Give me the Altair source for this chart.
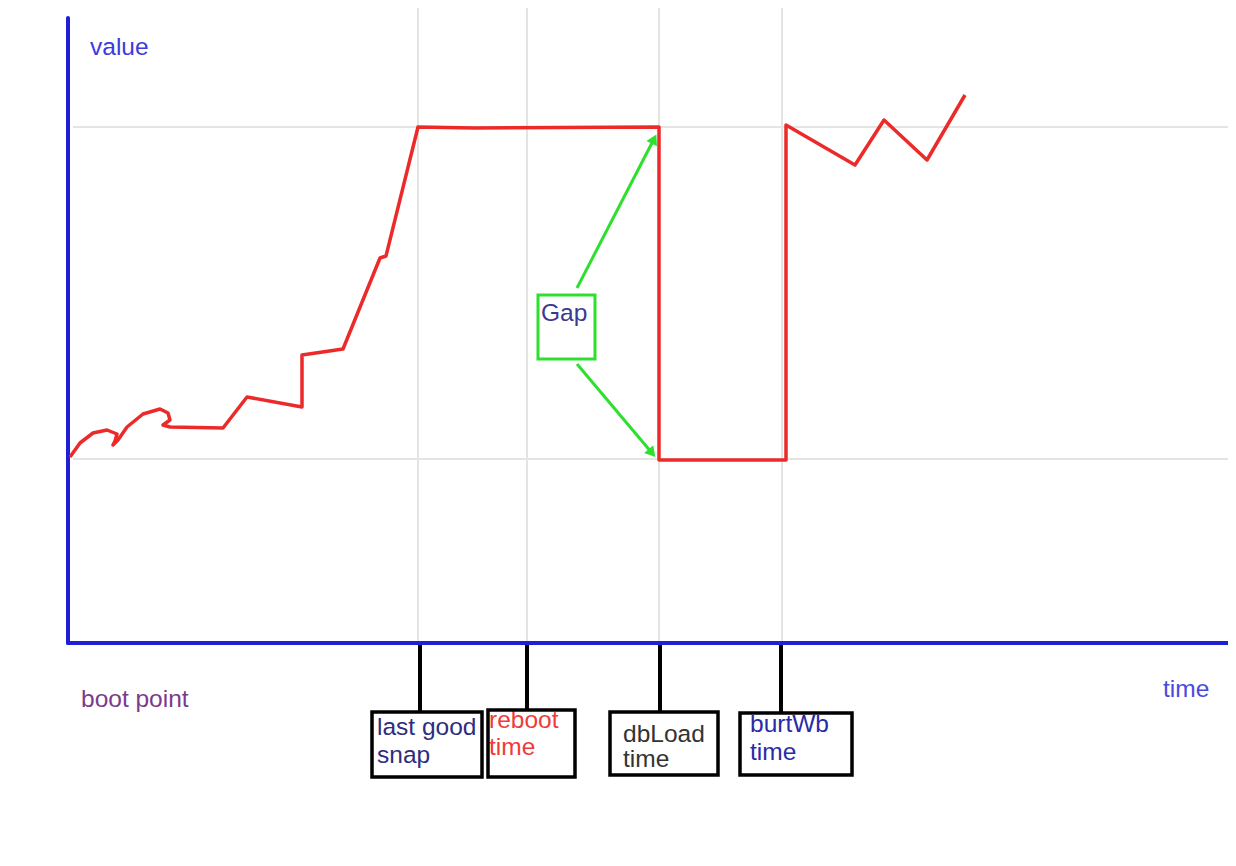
import altair as alt
import pandas as pd

# ---------------- data (time units, value units) ----------------
red_t = [0.2, 1.2, 2.5, 3.9, 4.9, 4.7, 4.5, 5.0, 5.9, 7.5, 9.2, 10.0, 10.2, 9.5, 10.2,
         15.5, 17.9, 23.4, 23.4, 27.5, 31.2, 31.8, 35.0, 40.7, 59.1, 59.1, 71.8, 71.8,
         78.7, 81.6, 85.9, 89.7]
red_v = [18.6, 20.0, 21.0, 21.3, 20.9, 20.2, 19.8, 20.3, 21.6, 22.9, 23.4, 23.0, 22.3, 21.8, 21.6,
         21.5, 24.6, 23.6, 28.8, 29.4, 38.5, 38.7, 51.6, 51.5, 51.6, 18.3, 18.3, 51.8,
         47.8, 52.3, 48.3, 54.8]

grid_v = [18.4, 51.6]
event_t = [35.0, 45.9, 59.1, 71.4]
tick_t = [35.2, 45.9, 59.2, 71.3]

box_t1 = [30.4, 42.0, 54.2, 67.2]
box_t2 = [41.4, 50.7, 65.0, 78.4]
box_v1 = [-6.9, -6.7, -6.9, -7.0]
box_v2 = [-13.4, -13.4, -13.2, -13.2]

label_line1 = ["last good", "reboot", "dbLoad", "burtWb"]
label_line2 = ["snap", "time", "time", "time"]
label_t = [30.9, 42.1, 55.5, 68.2]
label_v1 = [-9.2, -8.5, -9.9, -8.9]
label_v2 = [-12.0, -11.2, -12.4, -11.7]
label_colors = ["#2d2d80", "#f03a3a", "#333333", "#2a2aa8"]

free_text = ["value", "boot point", "time", "Gap"]
free_t = [2.2, 1.3, 109.5, 47.3]
free_v = [58.8, -6.4, -5.4, 32.2]
free_colors = ["#3b3be0", "#7a3b8c", "#4a4ae0", "#3a3a8f"]

gap_box = {"t1": 47.0, "t2": 52.7, "v1": 34.8, "v2": 28.4}
arrow_t1 = [50.9, 50.9]
arrow_v1 = [35.5, 27.9]
arrow_t2 = [58.6, 58.4]
arrow_v2 = [50.4, 19.0]
arrow_angle = [27, 140]

T_DOM = [-6, 116]
V_DOM = [-20.5, 63.5]

def X(f):
    return alt.X(f, type="quantitative",
                 scale=alt.Scale(domain=T_DOM, nice=False, zero=False), axis=None)

def Y(f):
    return alt.Y(f, type="quantitative",
                 scale=alt.Scale(domain=V_DOM, nice=False, zero=False), axis=None)

# ---------------- layers ----------------
hgrid = alt.Chart(pd.DataFrame({"v": grid_v, "t1": [0.5] * 2, "t2": [116] * 2})).mark_rule(
    color="#e4e4e4", strokeWidth=2).encode(x=X("t1"), x2="t2", y=Y("v"))

vgrid = alt.Chart(pd.DataFrame({"t": event_t, "v1": [0] * 4, "v2": [63.5] * 4})).mark_rule(
    color="#e4e4e4", strokeWidth=2).encode(x=X("t"), y=Y("v1"), y2="v2")

axes = alt.Chart(pd.DataFrame({"t1": [0, 0], "t2": [116, 0], "v1": [0, 0], "v2": [0, 62.5]})).mark_rule(
    color="#1f1fd8", strokeWidth=4, strokeCap="round").encode(x=X("t1"), x2="t2", y=Y("v1"), y2="v2")

ticks = alt.Chart(pd.DataFrame({"t": tick_t, "v1": [-0.2] * 4, "v2": box_v1})).mark_rule(
    color="#000000", strokeWidth=4).encode(x=X("t"), y=Y("v1"), y2="v2")

red = alt.Chart(pd.DataFrame({"t": red_t, "v": red_v, "i": list(range(len(red_t)))})).mark_line(
    color="#ec2a2a", strokeWidth=3.5, strokeJoin="round").encode(
    x=X("t"), y=Y("v"), order=alt.Order("i:Q"))

arrows = alt.Chart(pd.DataFrame({"t1": arrow_t1, "v1": arrow_v1, "t2": arrow_t2, "v2": arrow_v2})).mark_rule(
    color="#2ee02e", strokeWidth=3).encode(x=X("t1"), x2="t2", y=Y("v1"), y2="v2")

heads = alt.Chart(pd.DataFrame({"t": arrow_t2, "v": arrow_v2, "a": arrow_angle})).mark_point(
    shape="triangle-up", filled=True, color="#2ee02e", size=140, opacity=1).encode(
    x=X("t"), y=Y("v"), angle=alt.Angle("a:Q", scale=None))

gapbox = alt.Chart(pd.DataFrame([gap_box])).mark_rect(
    fillOpacity=0, stroke="#2ee02e", strokeWidth=3).encode(x=X("t1"), x2="t2", y=Y("v1"), y2="v2")

txt_style = dict(align="left", baseline="alphabetic", font="Liberation Sans", fontSize=24.5)

free = alt.Chart(pd.DataFrame({"s": free_text, "t": free_t, "v": free_v, "c": free_colors})).mark_text(
    **txt_style).encode(x=X("t"), y=Y("v"), text="s:N", color=alt.Color("c:N", scale=None))

lab1 = alt.Chart(pd.DataFrame({"s": label_line1, "t": label_t, "v": label_v1, "c": label_colors})).mark_text(
    **txt_style).encode(x=X("t"), y=Y("v"), text="s:N", color=alt.Color("c:N", scale=None))

lab2 = alt.Chart(pd.DataFrame({"s": label_line2, "t": label_t, "v": label_v2, "c": label_colors})).mark_text(
    **txt_style).encode(x=X("t"), y=Y("v"), text="s:N", color=alt.Color("c:N", scale=None))

boxes = alt.Chart(pd.DataFrame({"t1": box_t1, "t2": box_t2, "v1": box_v1, "v2": box_v2})).mark_rect(
    fillOpacity=0, stroke="#000000", strokeWidth=3.5).encode(x=X("t1"), x2="t2", y=Y("v1"), y2="v2")

chart = alt.layer(
    hgrid, vgrid, axes, ticks, red, arrows, heads, gapbox, free, lab1, lab2, boxes
).properties(
    width=1220, height=840, padding=0,
    autosize=alt.AutoSizeParams(type="none"),
    background="white",
).configure_view(stroke=None)

chart.save("out.html", embed_options={"renderer": "svg", "actions": False})
